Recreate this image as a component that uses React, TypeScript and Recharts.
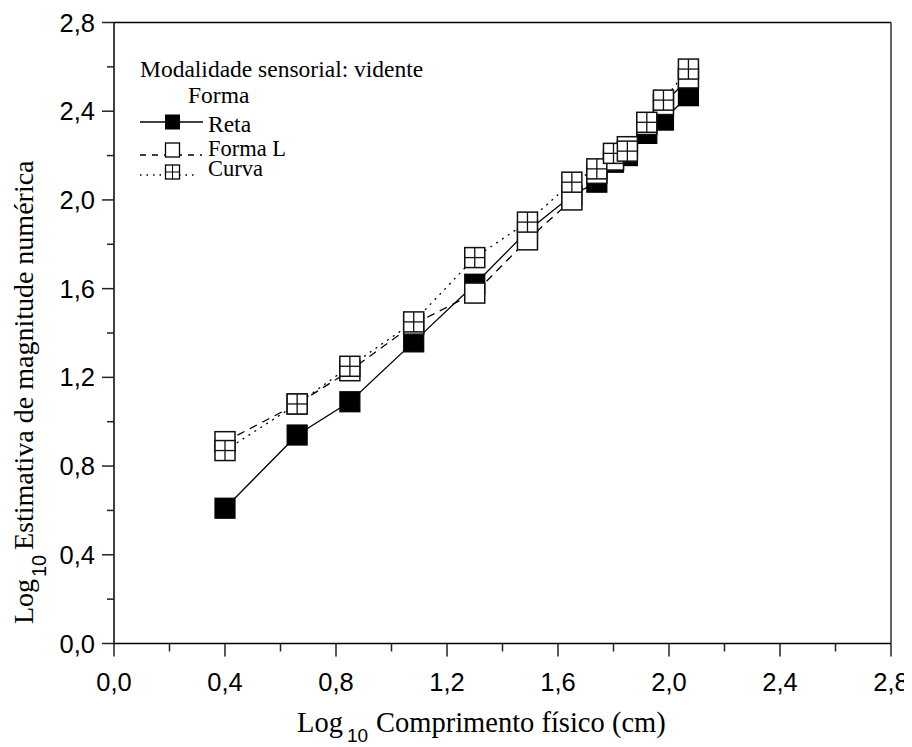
import { LineChart, Line, XAxis, YAxis, ReferenceLine, Customized } from "recharts";

// log10 physical length (cm)
const xs = [0.4, 0.66, 0.85, 1.08, 1.3, 1.49, 1.65, 1.74, 1.8, 1.85, 1.92, 1.98, 2.07];
// log10 numeric magnitude estimates per shape
const reta = [0.61, 0.94, 1.09, 1.36, 1.62, 1.86, 2.02, 2.08, 2.17, 2.2, 2.3, 2.36, 2.47];
const formaL = [0.91, 1.08, 1.23, 1.44, 1.58, 1.82, 2.0, 2.12, 2.18, 2.24, 2.34, 2.43, 2.55];
const curva = [0.87, 1.08, 1.25, 1.45, 1.74, 1.9, 2.08, 2.14, 2.21, 2.22, 2.35, 2.45, 2.59];

const xTicks = [0, 0.2, 0.4, 0.6, 0.8, 1.0, 1.2, 1.4, 1.6, 1.8, 2.0, 2.2, 2.4, 2.6, 2.8];
const yTicks = [0, 0.2, 0.4, 0.6, 0.8, 1.0, 1.2, 1.4, 1.6, 1.8, 2.0, 2.2, 2.4, 2.6, 2.8];

const data = xs.map((x, i) => ({ x, reta: reta[i], formaL: formaL[i], curva: curva[i] }));

const SANS = "'Liberation Sans', Arial, sans-serif";
const SERIF = "'Liberation Serif', 'Times New Roman', serif";
const BOX = 20;

const isMajor = (v: number) => Math.abs(v / 0.4 - Math.round(v / 0.4)) < 1e-6;
const fmt = (v: number) => v.toFixed(1).replace(".", ",");

function XTick(props: any) {
  const { x, y, payload } = props;
  const axisY = y - 13 - 16;
  const major = isMajor(payload.value);
  return (
    <g>
      <line x1={x} x2={x} y1={axisY} y2={axisY + (major ? 13 : 8)} stroke="#222" strokeWidth={1.5} />
      {major && (
        <text x={x} y={y} dy="0.71em" textAnchor="middle" fontFamily={SANS} fontSize={25.5} fill="#000">
          {fmt(payload.value)}
        </text>
      )}
    </g>
  );
}

function YTick(props: any) {
  const { x, y, payload } = props;
  const axisX = x + 12 + 7;
  const major = isMajor(payload.value);
  return (
    <g>
      <line x1={axisX} x2={axisX - (major ? 12 : 7)} y1={y} y2={y} stroke="#222" strokeWidth={1.5} />
      {major && (
        <text x={x} y={y} dy="0.355em" textAnchor="end" fontFamily={SANS} fontSize={25.5} fill="#000">
          {fmt(payload.value)}
        </text>
      )}
    </g>
  );
}

const filledDot = (p: any) => (
  <rect key={`r${p.index}`} x={p.cx - BOX / 2} y={p.cy - BOX / 2} width={BOX} height={BOX} fill="#000" stroke="#000" strokeWidth={1.2} />
);

const openDot = (p: any) => (
  <rect key={`l${p.index}`} x={p.cx - BOX / 2} y={p.cy - BOX / 2} width={BOX} height={BOX} fill="#fff" stroke="#111" strokeWidth={1.5} />
);

const crossDot = (p: any) => (
  <g key={`c${p.index}`}>
    <rect x={p.cx - BOX / 2} y={p.cy - BOX / 2} width={BOX} height={BOX} fill="#fff" stroke="#111" strokeWidth={1.5} />
    <line x1={p.cx - BOX / 2} x2={p.cx + BOX / 2} y1={p.cy} y2={p.cy} stroke="#111" strokeWidth={1.3} />
    <line x1={p.cx} x2={p.cx} y1={p.cy - BOX / 2} y2={p.cy + BOX / 2} stroke="#111" strokeWidth={1.3} />
  </g>
);

// legend and axis titles (svg coords = page coords - 8)
function Decorations() {
  const s = 14;
  return (
    <g fill="#000">
      <text x={132} y={69} fontFamily={SERIF} fontSize={23.5}>Modalidade sensorial: vidente</text>
      <text x={180} y={95} fontFamily={SERIF} fontSize={23.5}>Forma</text>

      <line x1={132} x2={195} y1={114} y2={114} stroke="#000" strokeWidth={1.3} />
      <rect x={164.5 - s / 2} y={114 - s / 2} width={s} height={s} fill="#000" stroke="#000" />
      <text x={200} y={124} fontFamily={SERIF} fontSize={23.5}>Reta</text>

      <line x1={132} x2={194} y1={147} y2={147} stroke="#000" strokeWidth={1.3} strokeDasharray="6 6" />
      <rect x={164.5 - s / 2} y={142 - s / 2} width={s} height={s} fill="#fff" stroke="#000" strokeWidth={1.3} />
      <text x={200} y={147.5} fontFamily={SERIF} fontSize={22.5}>Forma L</text>

      <line x1={132} x2={190} y1={167} y2={167} stroke="#000" strokeWidth={1.3} strokeDasharray="1.5 5" />
      <rect x={164.5 - s / 2} y={164 - s / 2} width={s} height={s} fill="#fff" stroke="#000" strokeWidth={1.3} />
      <line x1={164.5 - s / 2} x2={164.5 + s / 2} y1={164} y2={164} stroke="#000" strokeWidth={1} />
      <line x1={164.5} x2={164.5} y1={164 - s / 2} y2={164 + s / 2} stroke="#000" strokeWidth={1} />
      <text x={200} y={168} fontFamily={SERIF} fontSize={22.5}>Curva</text>

      <text x={289} y={724} fontFamily={SERIF} fontSize={28.5}>Log</text>
      <text x={339} y={734} fontFamily={SANS} fontSize={19}>10</text>
      <text x={368} y={724} fontFamily={SERIF} fontSize={28.5}>Comprimento físico (cm)</text>

      <text x={25} y={616} transform="rotate(-90 25 616)" fontFamily={SERIF} fontSize={28}>Log</text>
      <text x={38} y={569} transform="rotate(-90 38 569)" fontFamily={SANS} fontSize={20}>10</text>
      <text x={25} y={542} transform="rotate(-90 25 542)" fontFamily={SERIF} fontSize={28}>
        Estimativa de magnitude numérica
      </text>
    </g>
  );
}

export default function App() {
  return (
    <LineChart width={904} height={739} data={data} margin={{ top: 14.5, right: 21, bottom: 63.5, left: 46 }}>
      <XAxis
        dataKey="x"
        type="number"
        domain={[0, 2.8]}
        ticks={xTicks}
        interval={0}
        tick={<XTick />}
        tickLine={false}
        tickSize={13}
        tickMargin={16}
        height={40}
        axisLine={{ stroke: "#000", strokeWidth: 1.5 }}
      />
      <YAxis
        type="number"
        domain={[0, 2.8]}
        ticks={yTicks}
        interval={0}
        tick={<YTick />}
        tickLine={false}
        tickSize={12}
        tickMargin={7}
        width={60}
        axisLine={{ stroke: "#000", strokeWidth: 1.5 }}
      />
      <ReferenceLine y={2.8} stroke="#000" strokeWidth={1.5} />
      <ReferenceLine x={2.8} stroke="#333" strokeWidth={1.5} />
      <Line dataKey="reta" stroke="#000" strokeWidth={1.3} dot={filledDot} activeDot={false} isAnimationActive={false} />
      <Line dataKey="formaL" stroke="#000" strokeWidth={1.3} strokeDasharray="8 6" dot={openDot} activeDot={false} isAnimationActive={false} />
      <Line dataKey="curva" stroke="#000" strokeWidth={1.3} strokeDasharray="2 5" dot={crossDot} activeDot={false} isAnimationActive={false} />
      <Customized component={Decorations} />
    </LineChart>
  );
}
